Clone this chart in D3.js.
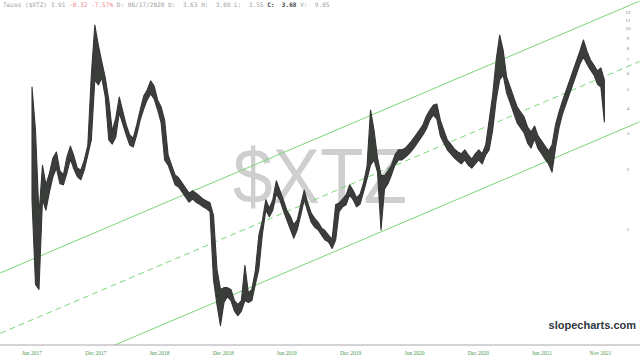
<!DOCTYPE html>
<html>
<head>
<meta charset="utf-8">
<script src="https://cdn.jsdelivr.net/npm/d3@7"></script>
<style>
  html, body { margin: 0; padding: 0; background: #fff; }
  svg { display: block; }
</style>
</head>
<body>
<div id="chart"></div>
<script>
// Data
var start_date      =   "2017-06-15";   // first bar, one bar every 10 days
var highs           =   [
    5.10, 3.11, 1.17, 2.08, 1.66, 1.90, 2.26, 2.42, 1.95, 1.86,
    2.28, 2.59, 2.31, 2.01, 1.97, 2.21, 2.62, 5.86, 10.39, 8.26,
    6.80, 5.66, 4.40, 3.08, 3.57, 4.55, 3.87, 3.30, 2.94, 2.84,
    3.30, 3.92, 4.60, 4.93, 5.47, 5.16, 4.40, 4.06, 3.49, 2.34,
    2.08, 1.86, 1.80, 1.70, 1.60, 1.51, 1.55, 1.51, 1.46, 1.41,
    1.38, 1.35, 1.17, 0.63, 0.50, 0.51, 0.51, 0.50, 0.44, 0.42,
    0.44, 0.66, 0.48, 0.50, 0.62, 0.93, 1.10, 1.40, 1.27, 1.40,
    1.74, 1.56, 1.40, 1.24, 1.16, 1.05, 1.11, 1.32, 1.56, 1.35,
    1.20, 1.13, 1.08, 1.01, 0.98, 0.93, 0.89, 1.32, 1.35, 1.41,
    1.48, 1.66, 1.56, 1.43, 1.49, 1.70, 2.06, 3.92, 3.11, 2.26,
    1.86, 1.84, 1.95, 2.08, 2.34, 2.48, 2.48, 2.53, 2.65, 2.78,
    2.94, 3.11, 3.30, 3.66, 3.92, 4.15, 4.20, 3.49, 3.11, 2.78,
    2.65, 2.51, 2.42, 2.37, 2.48, 2.34, 2.23, 2.37, 2.48, 2.37,
    2.62, 3.49, 4.66, 6.96, 9.27, 7.80, 5.72, 5.10, 4.55, 4.06,
    3.83, 3.62, 3.22, 3.04, 3.26, 2.91, 2.75, 2.59, 2.45, 2.62,
    3.30, 3.83, 4.35, 4.87, 5.47, 6.13, 6.88, 7.71, 8.75, 7.71,
    6.96, 6.57, 6.13, 6.35, 5.53
];
var lows            =   [
    1.40, 0.53, 0.50, 1.40, 1.24, 1.53, 1.82, 2.01, 1.68, 1.66,
    1.90, 2.23, 1.99, 1.82, 1.76, 1.97, 2.34, 2.78, 5.53, 5.22,
    5.66, 4.55, 2.78, 2.65, 2.87, 3.79, 3.34, 2.94, 2.62, 2.56,
    2.94, 3.49, 3.96, 4.40, 4.71, 4.45, 3.92, 3.38, 2.21, 2.08,
    1.86, 1.66, 1.62, 1.53, 1.44, 1.36, 1.41, 1.36, 1.33, 1.29,
    1.26, 1.22, 0.56, 0.42, 0.33, 0.43, 0.46, 0.44, 0.39, 0.37,
    0.39, 0.44, 0.43, 0.44, 0.53, 0.63, 0.94, 1.24, 1.15, 1.24,
    1.49, 1.40, 1.24, 1.11, 1.00, 0.90, 0.99, 1.17, 1.40, 1.22,
    1.08, 1.02, 0.99, 0.93, 0.88, 0.86, 0.80, 0.88, 1.22, 1.29,
    1.32, 1.48, 1.40, 1.29, 1.33, 1.53, 1.78, 2.08, 2.21, 1.92,
    0.99, 1.58, 1.68, 1.86, 2.08, 2.21, 2.21, 2.28, 2.37, 2.48,
    2.62, 2.78, 2.94, 3.15, 3.49, 3.70, 3.53, 2.91, 2.68, 2.48,
    2.37, 2.26, 2.18, 2.11, 2.21, 2.08, 2.01, 2.11, 2.21, 2.11,
    2.34, 2.48, 3.11, 4.40, 5.53, 5.86, 4.76, 4.25, 3.79, 3.38,
    3.19, 3.01, 2.68, 2.53, 2.81, 2.51, 2.37, 2.23, 2.11, 1.92,
    2.53, 3.19, 3.74, 4.20, 4.71, 5.28, 5.92, 6.64, 7.20, 6.64,
    6.20, 5.86, 5.28, 5.10, 3.42
];

// Trend channel: middle line through two points, outer lines a factor away
var channel_dates   =   [ "2017-03-16", "2022-03-22" ];
var channel_mid     =   [ 0.302, 6.84 ];
var channel_factor  =   2.0;

// Axis ticks
var x_tick_dates    =   [
    "2017-06-15", "2017-12-15", "2018-06-15", "2018-12-15", "2019-06-15",
    "2019-12-15", "2020-06-15", "2020-12-15", "2021-06-15", "2021-11-30"
];
var x_tick_labels   =   [
    "Jun 2017", "Dec 2017", "Jun 2018", "Dec 2018", "Jun 2019",
    "Dec 2019", "Jun 2020", "Dec 2020", "Jun 2021", "Nov 2021"
];
var y_ticks         =   [ 1, 2, 3, 4, 5, 6, 7, 8, 9, 10, 11, 12 ];

var chart_width     =   640;
var chart_height    =   361;
var axis_y          =   345;
var date_parse      =   d3.timeParse( '%Y-%m-%d' );

var bars            =   highs.map(function(h, i){
    return {
        date:   d3.timeDay.offset(date_parse(start_date), i * 10),
        high:   h,
        low:    lows[i]
    };
});

// Scales
var x_scale         =   d3.scaleTime()
    .domain([ date_parse("2017-06-15"), date_parse("2021-06-15") ])
    .range([ 32, 541.9 ]);
var y_scale         =   d3.scaleLog()
    .domain([ 1, 12 ])
    .range([ 229, 229 - 60.4 * Math.log2(12) ]);

// Create SVG
var svg             =   d3.select("#chart")
    .append("svg")
    .attr("width", chart_width)
    .attr("height", chart_height);

svg.append("defs").append("clipPath")
    .attr("id", "plot-clip")
    .append("rect")
    .attr("x", 0).attr("y", 0)
    .attr("width", chart_width).attr("height", axis_y);

// Watermark
svg.append("text")
    .attr("x", 320)
    .attr("y", 203)
    .attr("text-anchor", "middle")
    .attr("textLength", 174)
    .attr("lengthAdjust", "spacingAndGlyphs")
    .style("font-family", "'Liberation Sans', Arial, sans-serif")
    .style("font-size", "78px")
    .style("fill", "#cfcfcf")
    .text("$XTZ");

// Channel lines
var channel_line    =   d3.line()
    .x(function(d) { return x_scale(d.date); })
    .y(function(d) { return y_scale(d.value); });

var plot            =   svg.append("g").attr("clip-path", "url(#plot-clip)");

[ 1 / channel_factor, 1, channel_factor ].forEach(function(f){
    var pts         =   channel_dates.map(function(d, i){
        return { date: date_parse(d), value: channel_mid[i] * f };
    });
    plot.append("path")
        .datum(pts)
        .attr("d", channel_line)
        .attr("fill", "none")
        .attr("stroke", "#7ad67a")
        .attr("stroke-width", 1)
        .attr("stroke-dasharray", f === 1 ? "6,4" : null);
});

// Price bars (high-low band)
var price_area      =   d3.area()
    .x(function(d) { return x_scale(d.date); })
    .y0(function(d) { return y_scale(d.low); })
    .y1(function(d) { return y_scale(d.high); });

plot.append("path")
    .datum(bars)
    .attr("d", price_area)
    .attr("fill", "#3a3d3a")
    .attr("stroke", "#343734")
    .attr("stroke-width", 1.1)
    .attr("stroke-linejoin", "round");

// X axis
svg.append("line")
    .attr("x1", 0).attr("x2", chart_width)
    .attr("y1", axis_y).attr("y2", axis_y)
    .attr("stroke", "#a8a8a8")
    .attr("stroke-width", 1);

svg.selectAll(".x-label")
    .data(x_tick_dates)
    .enter()
    .append("text")
    .attr("class", "x-label")
    .attr("x", function(d) { return x_scale(date_parse(d)); })
    .attr("y", 355)
    .attr("text-anchor", "middle")
    .style("font-family", "'Liberation Serif', 'DejaVu Serif', serif")
    .style("font-size", "5.5px")
    .style("fill", "#4f9a4f")
    .text(function(d, i) { return x_tick_labels[i]; });

// Y axis (right)
svg.selectAll(".y-label")
    .data(y_ticks)
    .enter()
    .append("text")
    .attr("class", "y-label")
    .attr("x", 628)
    .attr("y", function(d) { return y_scale(d) + 2; })
    .attr("text-anchor", "middle")
    .style("font-family", "'Liberation Serif', 'DejaVu Serif', serif")
    .style("font-size", "5px")
    .style("fill", "#777")
    .text(function(d) { return d; });

// Header
var header          =   svg.append("text")
    .attr("x", 3)
    .attr("y", 7)
    .attr("xml:space", "preserve")
    .style("font-family", "'DejaVu Sans Mono', monospace")
    .style("font-size", "6.1px")
    .style("white-space", "pre")
    .style("fill", "#a0a0a0");
header.append("tspan").text("Tezos ($XTZ) 3.91 ");
header.append("tspan").style("fill", "#f08a8a").text("-0.32 -7.57%");
header.append("tspan").text(" D: 06/17/2020 O:  3.63 H:  3.69 L:  3.55 ");
header.append("tspan").style("fill", "#444").style("font-weight", "bold").text("C:  3.68");
header.append("tspan").text(" V:  9.05");

// Brand
svg.append("text")
    .attr("x", 636)
    .attr("y", 329)
    .attr("text-anchor", "end")
    .style("font-family", "'Liberation Sans', Arial, sans-serif")
    .style("font-size", "11px")
    .style("font-weight", "bold")
    .style("fill", "#2e3640")
    .text("slopecharts.com");
</script>
</body>
</html>
